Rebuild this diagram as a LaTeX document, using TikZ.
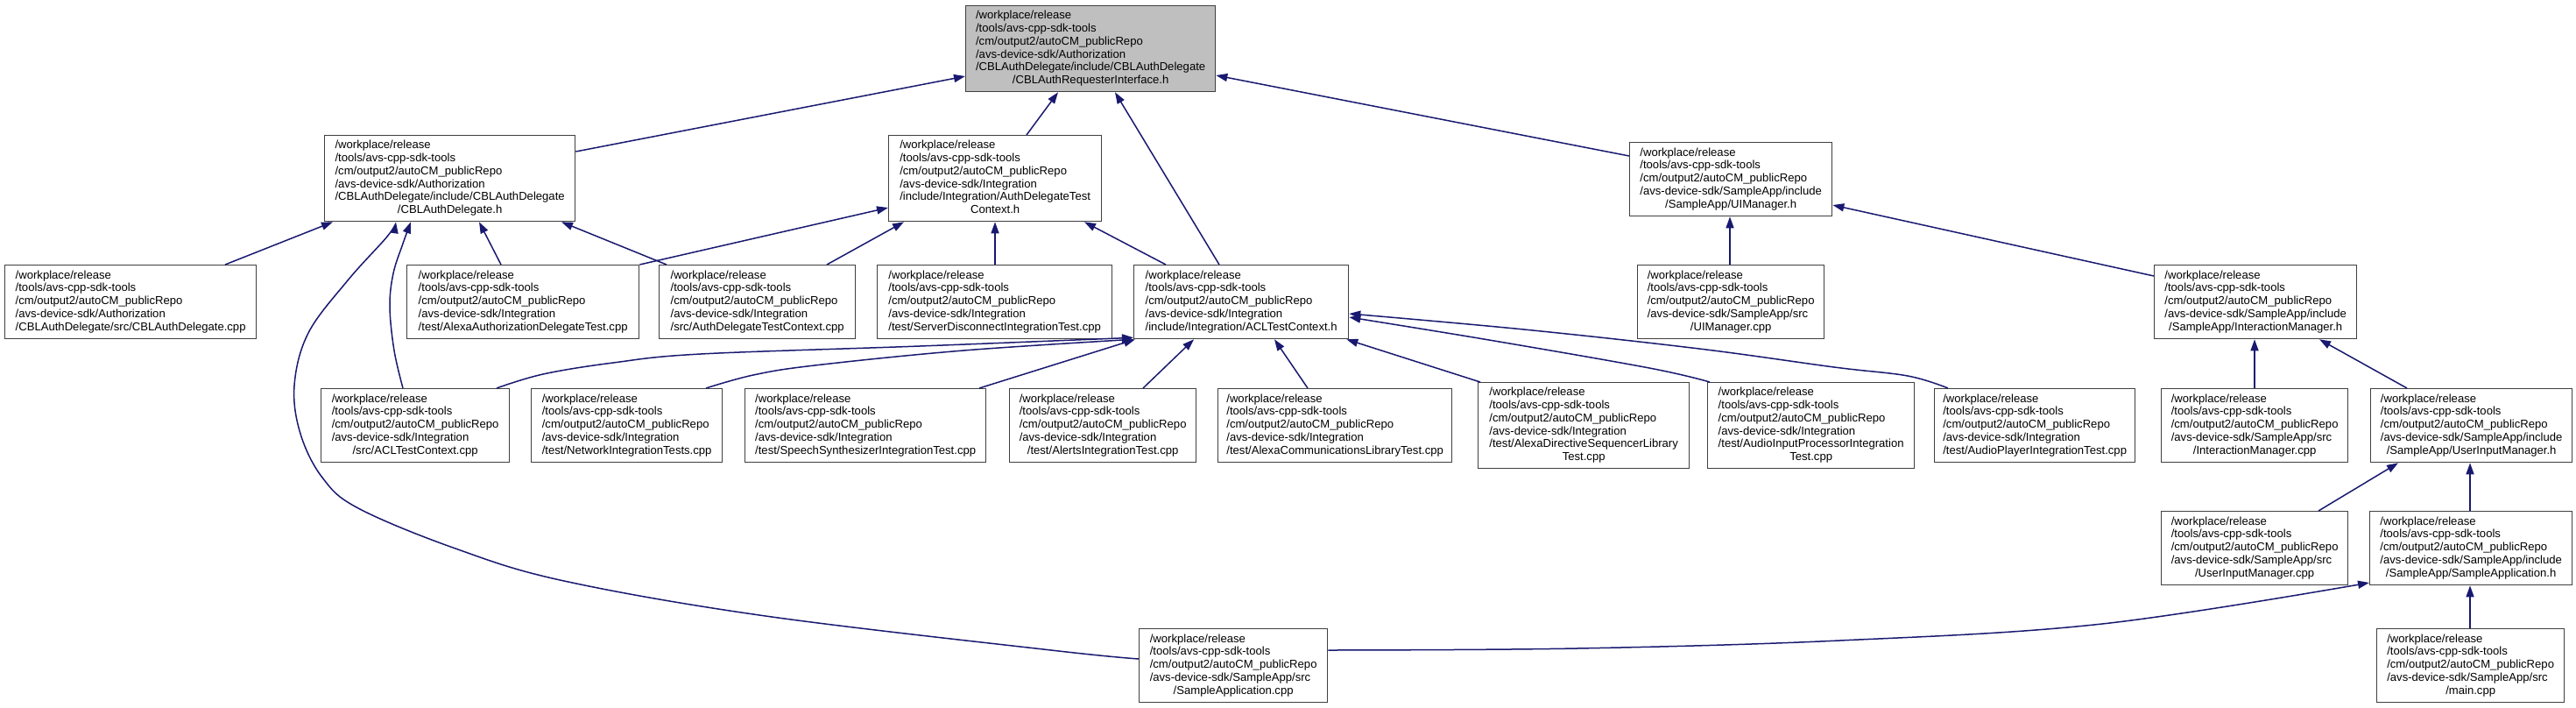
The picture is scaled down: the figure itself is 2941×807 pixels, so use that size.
\documentclass[tikz,border=0pt]{standalone}
\usepackage{fontspec}
\setmainfont{Liberation Sans}
\usetikzlibrary{arrows.meta,calc}
\definecolor{edgecol}{HTML}{191970}
\definecolor{boxcol}{HTML}{404040}
\definecolor{topfill}{HTML}{BFBFBF}
\newcommand{\avspre}{/workplace/release\\/tools/avs-cpp-sdk-tools\\/cm/output2/autoCM\_publicRepo}
\newcommand{\flines}[2]{\begin{tabular}{@{}l@{}}\avspre\\#1\\\multicolumn{1}{@{}c@{}}{#2}\end{tabular}}
\tikzset{
  box/.style={draw=boxcol, line width=1.3pt, fill=white, inner sep=0pt, anchor=north west,
    minimum height=84pt, font=\fontsize{13.1}{14.8}\selectfont, text=black},
  tallbox/.style={box, minimum height=98pt},
  edge/.style={draw=edgecol, line width=1.5pt, -{Triangle[length=13pt,width=9pt]}},
}
\begin{document}
\begin{tikzpicture}[x=1pt,y=-1pt]
\useasboundingbox (0,0) rectangle (2941,807);
% row 1
\node[tallbox, fill=topfill, minimum width=285pt] (T) at (1102,6) {\flines{/avs-device-sdk/Authorization\\/CBLAuthDelegate/include/CBLAuthDelegate}{/CBLAuthRequesterInterface.h}};
% row 2
\node[tallbox, minimum width=286pt] (A) at (370,154) {\flines{/avs-device-sdk/Authorization\\/CBLAuthDelegate/include/CBLAuthDelegate}{/CBLAuthDelegate.h}};
\node[tallbox, minimum width=243pt] (B) at (1014,154) {\flines{/avs-device-sdk/Integration\\/include/Integration/AuthDelegateTest}{Context.h}};
\node[box, minimum width=231pt] (U) at (1860,162) {\flines{/avs-device-sdk/SampleApp/include}{/SampleApp/UIManager.h}};
% row 3
\node[box, minimum width=287pt] (C1) at (5,302) {\flines{/avs-device-sdk/Authorization}{/CBLAuthDelegate/src/CBLAuthDelegate.cpp}};
\node[box, minimum width=265pt] (C2) at (464,302) {\flines{/avs-device-sdk/Integration}{/test/AlexaAuthorizationDelegateTest.cpp}};
\node[box, minimum width=224pt] (C3) at (752,302) {\flines{/avs-device-sdk/Integration}{/src/AuthDelegateTestContext.cpp}};
\node[box, minimum width=268pt] (C4) at (1001,302) {\flines{/avs-device-sdk/Integration}{/test/ServerDisconnectIntegrationTest.cpp}};
\node[box, minimum width=245pt] (ACL) at (1294,302) {\flines{/avs-device-sdk/Integration}{/include/Integration/ACLTestContext.h}};
\node[box, minimum width=213pt] (UC) at (1869,302) {\flines{/avs-device-sdk/SampleApp/src}{/UIManager.cpp}};
\node[box, minimum width=231pt] (IM) at (2459,302) {\flines{/avs-device-sdk/SampleApp/include}{/SampleApp/InteractionManager.h}};
% row 4
\node[box, minimum width=215pt] (ACLcpp) at (366,443) {\flines{/avs-device-sdk/Integration}{/src/ACLTestContext.cpp}};
\node[box, minimum width=218pt] (NIT) at (606,443) {\flines{/avs-device-sdk/Integration}{/test/NetworkIntegrationTests.cpp}};
\node[box, minimum width=275pt] (SSIT) at (850,443) {\flines{/avs-device-sdk/Integration}{/test/SpeechSynthesizerIntegrationTest.cpp}};
\node[box, minimum width=213pt] (AIT) at (1152,443) {\flines{/avs-device-sdk/Integration}{/test/AlertsIntegrationTest.cpp}};
\node[box, minimum width=267pt] (ACLT) at (1390,443) {\flines{/avs-device-sdk/Integration}{/test/AlexaCommunicationsLibraryTest.cpp}};
\node[tallbox, minimum width=241pt] (ADSL) at (1687,436) {\flines{/avs-device-sdk/Integration\\/test/AlexaDirectiveSequencerLibrary}{Test.cpp}};
\node[tallbox, minimum width=236pt] (AIPIT) at (1949,436) {\flines{/avs-device-sdk/Integration\\/test/AudioInputProcessorIntegration}{Test.cpp}};
\node[box, minimum width=229pt] (APIT) at (2208,443) {\flines{/avs-device-sdk/Integration}{/test/AudioPlayerIntegrationTest.cpp}};
\node[box, minimum width=213pt] (IMcpp) at (2467,443) {\flines{/avs-device-sdk/SampleApp/src}{/InteractionManager.cpp}};
\node[box, minimum width=230pt] (UIMh) at (2706,443) {\flines{/avs-device-sdk/SampleApp/include}{/SampleApp/UserInputManager.h}};
% row 5
\node[box, minimum width=213pt] (UIMcpp) at (2467,583) {\flines{/avs-device-sdk/SampleApp/src}{/UserInputManager.cpp}};
\node[box, minimum width=231pt] (SAh) at (2705,583) {\flines{/avs-device-sdk/SampleApp/include}{/SampleApp/SampleApplication.h}};
% row 6
\node[box, minimum width=215pt] (SAcpp) at (1300,717) {\flines{/avs-device-sdk/SampleApp/src}{/SampleApplication.cpp}};
\node[box, minimum width=214pt] (main) at (2713,717) {\flines{/avs-device-sdk/SampleApp/src}{/main.cpp}};

% edges to T
\draw[edge] ($(A.north east)+(0,19)$) -- ($(T.north west)+(0,81)$);
\draw[edge] ($(B.north west)+(158,0)$) -- ($(T.south west)+(106,0)$);
\draw[edge] ($(ACL.north west)+(98,0)$) -- ($(T.south west)+(171,0)$);
\draw[edge] ($(U.north west)+(0,16)$) -- ($(T.north east)+(0,80)$);
% edges to A
\draw[edge] ($(C1.north west)+(252,0)$) -- ($(A.south west)+(10,0)$);
\draw[edge] plot[smooth, tension=0.6] coordinates {($(ACLcpp.north west)+(94,0)$) (450,400) (445,350) (449,312) (460,278) ($(A.south west)+(99,0)$)};
\draw[edge] plot[smooth, tension=0.6] coordinates {($(SAcpp.north west)+(0,35)$) (1200,742) (874,703) (644,663) (520,626) (409,580) (368,545) (343,495) (336,440) (352,380) (397,320) (442,270) ($(A.south west)+(82,0)$)};
\draw[edge] ($(C2.north west)+(108,0)$) -- ($(A.south west)+(177,0)$);
\draw[edge] ($(C3.north west)+(9,0)$) -- ($(A.south west)+(271,0)$);
% edges to B
\draw[edge] (C2.north east) -- ($(B.north west)+(0,83)$);
\draw[edge] ($(C3.north west)+(192,0)$) -- ($(B.south west)+(18,0)$);
\draw[edge] ($(C4.north west)+(135,0)$) -- ($(B.south west)+(122,0)$);
\draw[edge] ($(ACL.north west)+(37,0)$) -- ($(B.south west)+(224,0)$);
% edges to ACL
\draw[edge] plot[smooth, tension=0.6] coordinates {($(ACLcpp.north west)+(201,0)$) (620,427) (700,414) (800,404) (1050,395) ($(ACL.south west)+(0,-2)$)};
\draw[edge] plot[smooth, tension=0.6] coordinates {($(NIT.north west)+(200,0)$) (860,428) (930,417) (1100,400) ($(ACL.south west)+(0,0)$)};
\draw[edge] ($(SSIT.north west)+(268,0)$) -- ($(ACL.south west)+(2,0)$);
\draw[edge] ($(AIT.north west)+(153,0)$) -- ($(ACL.south west)+(69,0)$);
\draw[edge] ($(ACLT.north west)+(103,0)$) -- ($(ACL.south west)+(161,0)$);
\draw[edge] ($(ADSL.north west)+(3,0)$) -- ($(ACL.south east)+(-3,0)$);
\draw[edge] plot[smooth, tension=0.6] coordinates {($(AIPIT.north west)+(3,0)$) (1883,420) (1700,388) ($(ACL.north east)+(0,60)$)};
\draw[edge] plot[smooth, tension=0.6] coordinates {($(APIT.north west)+(16,0)$) (2178,429) (2094,419) (1940,398) (1740,376) ($(ACL.north east)+(0,56)$)};
% edges to U
\draw[edge] ($(UC.north west)+(106,0)$) -- ($(U.south west)+(115,0)$);
\draw[edge] ($(IM.north west)+(0,13)$) -- ($(U.north east)+(0,72)$);
% edges to IM
\draw[edge] ($(IMcpp.north west)+(107,0)$) -- ($(IM.south west)+(115,0)$);
\draw[edge] ($(UIMh.north west)+(42,0)$) -- ($(IM.south west)+(189,0)$);
% edges to UIMh
\draw[edge] ($(UIMcpp.north west)+(180,0)$) -- ($(UIMh.south west)+(32,0)$);
\draw[edge] ($(SAh.north west)+(115,0)$) -- ($(UIMh.south west)+(114,0)$);
% edges to SAh
\draw[edge] ($(main.north west)+(107,0)$) -- ($(SAh.south west)+(115,0)$);
\draw[edge] plot[smooth, tension=0.6] coordinates {($(SAcpp.north east)+(0,25)$) (1800,740) (2100,731) (2400,712) ($(SAh.north west)+(0,82)$)};
\end{tikzpicture}
\end{document}
